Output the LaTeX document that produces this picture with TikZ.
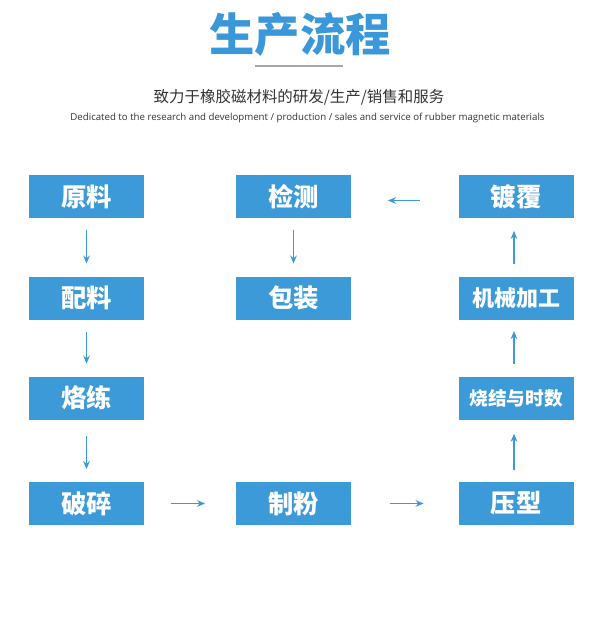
\documentclass[tikz,border=0pt]{standalone}
\usepackage{fontspec}
\usetikzlibrary{arrows.meta}
\newfontfamily\cjk{Noto Sans CJK SC}
\newfontfamily\enfont{Open Sans}
\definecolor{boxblue}{HTML}{3C9AD8}
\definecolor{titleblue}{HTML}{3A98DA}
\definecolor{subgray}{HTML}{333333}
\tikzset{
  stepbox/.style={fill=boxblue, draw=none, minimum width=86.25pt, minimum height=32.25pt, inner sep=0pt, text=white, font=\cjk\bfseries\fontsize{19}{19}\selectfont},
  flow/.style={draw=boxblue, line width=1.1pt, -{Stealth[length=6pt,width=5pt]}},
}
\begin{document}
\begin{tikzpicture}[x=0.75pt,y=-0.75pt]
\useasboundingbox (0,0) rectangle (600,617);
\fill[white] (0,0) rectangle (600,617);
% title
\node[text=titleblue, font=\cjk\bfseries\fontsize{34}{34}\selectfont] (title) at (300,34) {生产流程};
\coordinate (l1) at (255,66);
\coordinate (l2) at (343,66);
\draw[gray!70, line width=0.8pt] (l1) -- (l2);
\node[text=subgray, font=\cjk\fontsize{11.6}{12}\selectfont] (sub) at (299,97) {致力于橡胶磁材料的研发/生产/销售和服务};
\node[text=subgray, font=\enfont\fontsize{7.25}{8}\selectfont] (en) at (307.5,118) {Dedicated to the research and development / production / sales and service of rubber magnetic materials};
% boxes
\node[stepbox] (yl) at (86.5,196.5) {原料};
\node[stepbox] (pl) at (86.5,298) {配料};
\node[stepbox] (ll) at (86.5,398) {烙练};
\node[stepbox] (ps) at (86.5,503.5) {破碎};
\node[stepbox] (jc) at (293.5,196.5) {检测};
\node[stepbox] (bz) at (293.5,298) {包装};
\node[stepbox] (zf) at (293.5,503.5) {制粉};
\node[stepbox] (df) at (516,196.5) {镀覆};
\node[stepbox, font=\cjk\bfseries\fontsize{16.5}{17}\selectfont] (jx) at (516,298) {机械加工};
\node[stepbox, font=\cjk\bfseries\fontsize{14}{15}\selectfont] (sj) at (516,398) {烧结与时数};
\node[stepbox] (yx) at (516,503.5) {压型};
% arrows
\draw[flow, shorten <=9pt, shorten >=9.5pt] (yl) -- (pl);
\draw[flow, shorten <=9pt, shorten >=9.5pt] (pl) -- (ll);
\draw[flow, shorten <=12pt, shorten >=9.5pt] (ll) -- (ps);
\draw[flow, shorten <=9pt, shorten >=9.5pt] (jc) -- (bz);
\draw[flow, shorten <=20pt, shorten >=23pt] (ps) -- (zf);
\draw[flow, shorten <=29pt, shorten >=26pt] (zf) -- (yx);
\draw[flow, shorten <=9pt, shorten >=10.5pt] ([xshift=-1.5pt]yx.north) -- ([xshift=-1.5pt]sj.south);
\draw[flow, shorten <=9pt, shorten >=8.5pt] ([xshift=-1.5pt]sj.north) -- ([xshift=-1.5pt]jx.south);
\draw[flow, shorten <=9pt, shorten >=9.5pt] ([xshift=-1.5pt]jx.north) -- ([xshift=-1.5pt]df.south);
\draw[flow, shorten <=29pt, shorten >=27.5pt] ([yshift=-3pt]df.west) -- ([yshift=-3pt]jc.east);
\end{tikzpicture}
\end{document}
